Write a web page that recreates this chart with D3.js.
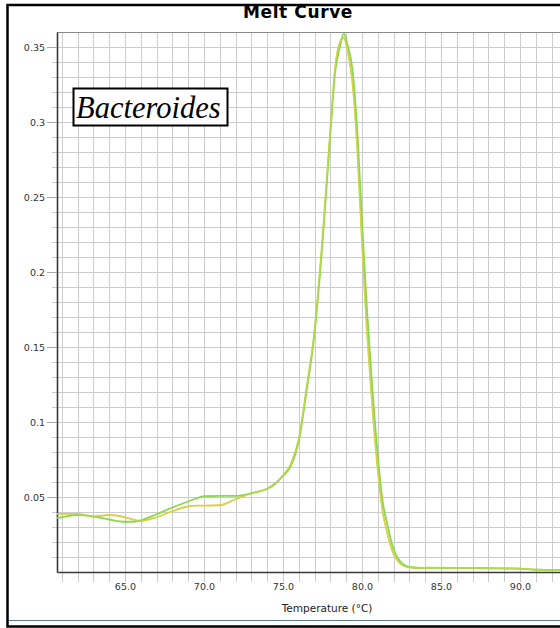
<!DOCTYPE html>
<html>
<head>
<meta charset="utf-8">
<script src="https://cdn.jsdelivr.net/npm/d3@7"></script>
<style>
  html, body { margin: 0; padding: 0; background: #fff; }
  svg { display: block; }
</style>
</head>
<body>
<svg id="chart" width="560" height="628"></svg>
<script>
// Melt curve: derivative of fluorescence vs temperature for two replicates
const temps = [60.7, 61, 62, 63, 64, 65, 65.5, 66, 67, 68, 69, 69.5, 70, 71, 72, 73, 74, 74.5,
  75, 75.5, 76, 76.5, 77, 77.5, 78, 78.3, 78.6, 78.85, 79.1, 79.4, 79.7, 80, 80.3, 80.6,
  81, 81.3, 81.6, 82, 82.4, 82.8, 83.2, 83.7, 84.5, 86, 88, 90, 91, 93];

const greenValues = [0.036, 0.0365, 0.038, 0.037, 0.035, 0.0335, 0.0335, 0.0345, 0.0385, 0.043,
  0.047, 0.049, 0.0505, 0.0507, 0.0507, 0.0525, 0.0555, 0.059,
  0.064, 0.0707, 0.087, 0.121, 0.159, 0.219, 0.292, 0.333, 0.35, 0.359, 0.351, 0.335, 0.295,
  0.235, 0.178, 0.131, 0.078, 0.048, 0.032, 0.0153, 0.0073, 0.004, 0.003, 0.0027,
  0.0027, 0.0027, 0.0025, 0.0022, 0.0015, 0.0014];

const yellowValues = [0.0387, 0.0388, 0.0387, 0.037, 0.038, 0.0365, 0.035, 0.034, 0.0365, 0.0405,
  0.0437, 0.0442, 0.0442, 0.0445, 0.0485, 0.0525, 0.0555, 0.0585,
  0.0645, 0.072, 0.0885, 0.123, 0.161, 0.222, 0.295, 0.336, 0.353, 0.356, 0.347, 0.326, 0.283,
  0.22, 0.163, 0.118, 0.068, 0.041, 0.026, 0.012, 0.0058, 0.0035, 0.003, 0.0028,
  0.0029, 0.0028, 0.0025, 0.0022, 0.0016, 0.0014];

const xTickValues = [65, 70, 75, 80, 85, 90];
const xTickLabels = ["65.0", "70.0", "75.0", "80.0", "85.0", "90.0"];
const yTickValues = [0.05, 0.1, 0.15, 0.2, 0.25, 0.3, 0.35];
const yTickLabels = ["0.05", "0.1", "0.15", "0.2", "0.25", "0.3", "0.35"];
const xGridValues = d3.range(61, 96, 1);
const yGridValues = d3.range(1, 36, 1).map(d => d / 100);

const svg = d3.select("#chart");
const plot = { left: 57, top: 32, bottom: 572 };

const x = d3.scaleLinear().domain([60.7, 95]).range([plot.left, plot.left + 34.3 * 15.8]);
const y = d3.scaleLinear().domain([0, 0.36]).range([plot.bottom, plot.top]);

svg.append("rect").attr("width", 560).attr("height", 628).attr("fill", "#fff");

svg.append("defs").append("clipPath").attr("id", "plotClip")
  .append("rect")
  .attr("x", plot.left).attr("y", plot.top - 2)
  .attr("width", x.range()[1] - plot.left).attr("height", plot.bottom - plot.top + 2);

// grid
const grid = svg.append("g").attr("stroke", "#cbcbcb").attr("stroke-width", 1);
grid.selectAll("line.v").data(xGridValues).join("line")
  .attr("class", "v")
  .attr("x1", d => Math.round(x(d)) + 0.5).attr("x2", d => Math.round(x(d)) + 0.5)
  .attr("y1", plot.top).attr("y2", plot.bottom + 10);
grid.selectAll("line.h").data(yGridValues).join("line")
  .attr("class", "h")
  .attr("x1", plot.left - 5).attr("x2", x.range()[1])
  .attr("y1", d => Math.round(y(d)) + 0.5).attr("y2", d => Math.round(y(d)) + 0.5);

// plot top border
svg.append("line")
  .attr("x1", plot.left).attr("x2", 560)
  .attr("y1", plot.top + 0.5).attr("y2", plot.top + 0.5)
  .attr("stroke", "#8a8a8a").attr("stroke-width", 1.2);

// axes
const yAxis = d3.axisLeft(y).tickValues(yTickValues)
  .tickFormat((d, i) => yTickLabels[i]).tickSize(10).tickSizeOuter(0);
const gy = svg.append("g").attr("transform", `translate(${plot.left},0)`).call(yAxis);
gy.select(".domain").attr("stroke", "#3a3a3a").attr("stroke-width", 1.6);
gy.selectAll(".tick line").attr("stroke", "#a8a8a8");
gy.selectAll(".tick text").attr("font-family", "DejaVu Sans, sans-serif")
  .attr("font-size", 9.5).attr("fill", "#333").attr("x", -12);

const xAxis = d3.axisBottom(x).tickValues(xTickValues)
  .tickFormat((d, i) => xTickLabels[i]).tickSize(0).tickSizeOuter(0);
const gx = svg.append("g").attr("transform", `translate(0,${plot.bottom})`).call(xAxis);
gx.select(".domain").attr("stroke", "#3a3a3a").attr("stroke-width", 1.6);
gx.selectAll(".tick text").attr("font-family", "DejaVu Sans, sans-serif")
  .attr("font-size", 9.5).attr("fill", "#333").attr("dy", 0).attr("y", 18);

// curves
const line = d3.line().x((d, i) => x(temps[i])).y(d => y(d)).curve(d3.curveMonotoneX);
const curves = svg.append("g").attr("clip-path", "url(#plotClip)").attr("fill", "none");
curves.append("path").attr("d", line(yellowValues))
  .attr("stroke", "#d8c84a").attr("stroke-width", 1.8);
curves.append("path").attr("d", line(greenValues))
  .attr("stroke", "#8ad850").attr("stroke-width", 1.8);
curves.append("path").attr("d", line(yellowValues))
  .attr("stroke", "#dcdc50").attr("stroke-width", 1).attr("stroke-opacity", 0.6);

// title and axis label
svg.append("text").attr("x", 298).attr("y", 17.5)
  .attr("text-anchor", "middle")
  .attr("font-family", "DejaVu Sans, sans-serif").attr("font-weight", "bold")
  .attr("font-size", 17).attr("letter-spacing", 0.6).attr("fill", "#000")
  .text("Melt Curve");

svg.append("text").attr("x", 327).attr("y", 612)
  .attr("text-anchor", "middle")
  .attr("font-family", "DejaVu Sans, sans-serif")
  .attr("font-size", 10.5).attr("fill", "#222")
  .text("Temperature (°C)");

// species label
svg.append("rect").attr("x", 73.5).attr("y", 88.5).attr("width", 154).attr("height", 37)
  .attr("fill", "#fff").attr("stroke", "#000").attr("stroke-width", 2);
svg.append("text").attr("x", 76).attr("y", 118)
  .attr("font-family", "Liberation Serif, Times New Roman, serif")
  .attr("font-style", "italic").attr("font-size", 30.5).attr("fill", "#000")
  .text("Bacteroides");

// outer frame
svg.append("line").attr("x1", 9).attr("x2", 560).attr("y1", 620.5).attr("y2", 620.5)
  .attr("stroke", "#5c7c86").attr("stroke-width", 1.2);
svg.append("rect").attr("x", 7.5).attr("y", 5).attr("width", 560).attr("height", 621.5)
  .attr("fill", "none").attr("stroke", "#000").attr("stroke-width", 2.5);
</script>
</body>
</html>
